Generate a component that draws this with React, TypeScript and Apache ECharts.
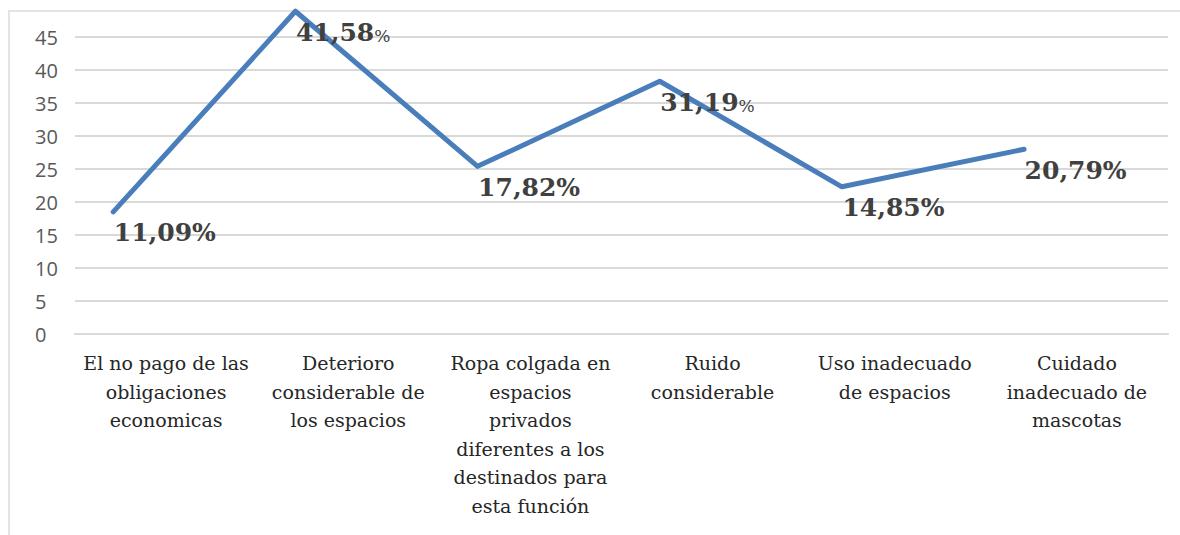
import React, { useEffect, useRef } from "react";
import * as echarts from "echarts";

const categories: string[] = [
  "El no pago de las\nobligaciones\neconomicas",
  "Deterioro\nconsiderable de\nlos espacios",
  "Ropa colgada en\nespacios\nprivados\ndiferentes a los\ndestinados para\nesta función",
  "Ruido\nconsiderable",
  "Uso inadecuado\nde espacios",
  "Cuidado\ninadecuado de\nmascotas",
];

const values: number[] = [18.5, 48.9, 25.4, 38.3, 22.3, 28.0];

const pointLabels: string[] = ["11,09%", "41,58%", "17,82%", "31,19%", "14,85%", "20,79%"];

// labels whose "%" sign is drawn small and regular in the reference
const plainPercent: boolean[] = [false, true, false, true, false, false];

const yMin = 0;
const yMax = 45;
const yStep = 5;

export default function App() {
  const ref = useRef<HTMLDivElement>(null);

  useEffect(() => {
    if (!ref.current) return;
    const chart = echarts.init(ref.current, null, { renderer: "svg" });
    const option: any = {
      animation: false,
      backgroundColor: "#ffffff",
      graphic: [
        {
          type: "rect",
          z: -10,
          silent: true,
          shape: { x: 9, y: 11, width: 1200, height: 600 },
          style: { fill: "none", stroke: "#e3e3e3", lineWidth: 2 },
        },
      ],
      grid: { left: 75, right: 12, top: 37, bottom: 201, containLabel: false },
      xAxis: [
        {
          type: "category",
          data: categories,
          boundaryGap: true,
          axisLine: { show: true, lineStyle: { color: "#d9d9d9", width: 2 } },
          axisTick: { show: false },
          splitLine: { show: false },
          axisLabel: {
            interval: 0,
            margin: 15,
            fontFamily: "DejaVu Serif",
            fontSize: 19,
            lineHeight: 28.5,
            color: "#262626",
            align: "center",
          },
        },
        {
          type: "value",
          min: -0.21,
          max: 5.79,
          show: false,
        },
      ],
      yAxis: {
        type: "value",
        min: yMin,
        max: yMax,
        interval: yStep,
        axisLine: { show: false },
        axisTick: { show: false },
        splitLine: { lineStyle: { color: "#d9d9d9", width: 2 } },
        axisLabel: {
          align: "left",
          margin: 40,
          fontFamily: "Open Sans",
          fontSize: 20,
          color: "#595959",
        },
      },
      series: [
        {
          type: "line",
          xAxisIndex: 1,
          data: values.map((v, i) => [i, v]),
          clip: false,
          silent: true,
          symbol: "circle",
          symbolSize: 1,
          showSymbol: true,
          itemStyle: { color: "transparent", borderWidth: 0 },
          lineStyle: { color: "#4a7ebb", width: 5, join: "round", cap: "round" },
          emphasis: { disabled: true },
          label: {
            show: true,
            position: [1, 19],
            align: "left",
            verticalAlign: "middle",
            formatter: (p: any) => {
              const t = pointLabels[p.dataIndex];
              if (plainPercent[p.dataIndex]) {
                return `{b|${t.replace("%", "")}}{p|%}`;
              }
              return `{b|${t}}`;
            },
            rich: {
              b: {
                fontFamily: "DejaVu Serif",
                fontWeight: "bold",
                fontSize: 25,
                color: "#404040",
                lineHeight: 30,
                verticalAlign: "bottom",
              },
              p: {
                fontFamily: "DejaVu Serif",
                fontSize: 17,
                color: "#404040",
                lineHeight: 30,
                verticalAlign: "bottom",
              },
            },
          },
        },
      ],
    };
    chart.setOption(option);
    return () => chart.dispose();
  }, []);

  return (
    <div
      ref={ref}
      style={{ position: "fixed", left: 0, top: 0, width: 1180, height: 535, background: "#fff" }}
    />
  );
}
